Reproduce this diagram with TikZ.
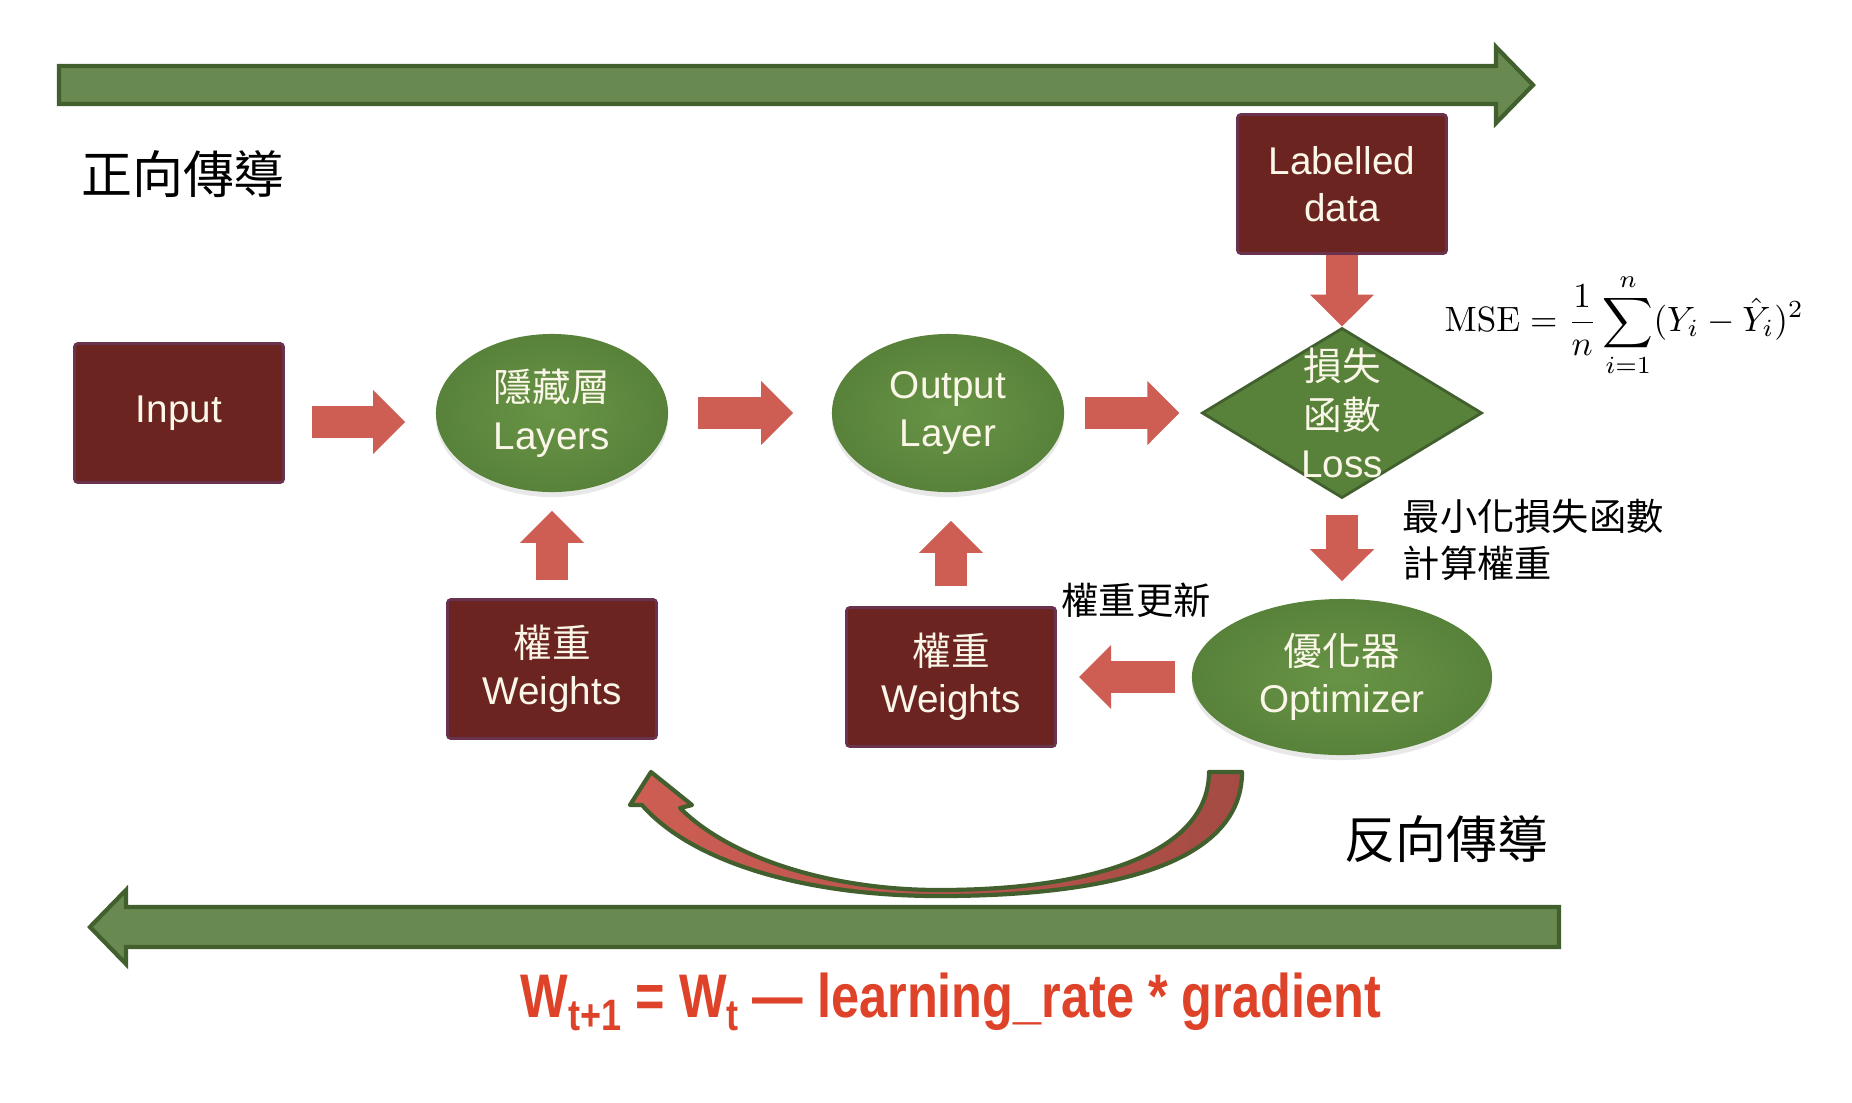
\documentclass[tikz,border=0pt]{standalone}
\usepackage[no-math]{fontspec}
\setmainfont{Liberation Sans}
\newfontfamily\cjk{Noto Sans CJK TC}
\usepackage{graphicx}
\usetikzlibrary{shapes.geometric,arrows.meta,shadows}

\definecolor{rossoscuro}{RGB}{108,36,32}
\definecolor{bordoviola}{RGB}{105,50,78}
\definecolor{verde}{RGB}{88,130,58}
\definecolor{verdechiaro}{RGB}{104,148,70}
\definecolor{verdescuro}{RGB}{66,96,46}
\definecolor{verdebanda}{RGB}{104,138,80}
\definecolor{rossofreccia}{RGB}{206,94,84}
\definecolor{crema}{RGB}{250,246,232}
\definecolor{arancio}{RGB}{222,66,40}

\begin{document}
\begin{tikzpicture}[x=0.01cm, y=-0.01cm,
			blocco/.style={rectangle, rounded corners=1pt, fill=rossoscuro,
				draw=bordoviola, line width=0.8pt, inner sep=0pt,
				minimum width=2.09cm, minimum height=1.39cm,
				align=center, text=crema, font=\fontsize{11}{13.5}\selectfont},
			strato/.style={ellipse, inner color=verdechiaro, outer color=verde,
				minimum width=2.32cm, minimum height=1.58cm, inner sep=0pt,
				align=center, text=crema, font=\fontsize{11}{13.5}\selectfont,
				drop shadow={opacity=0.18, shadow xshift=0pt, shadow yshift=-0.05cm}},
			rombo/.style={diamond, fill=verde, draw=verdescuro, line width=0.8pt,
				minimum width=2.8cm, minimum height=1.7cm, inner sep=0pt},
			dentro/.style={align=center, text=crema, inner sep=0pt,
				font=\fontsize{11}{13.7}\selectfont},
			freccia/.style={draw=rossofreccia, line width=0.32cm,
				-{Triangle[width=0.62cm,length=0.32cm]}},
			banda/.style={fill=verdebanda, draw=verdescuro, line width=1.2pt,
				line join=miter},
			curva/.style={left color=rossofreccia, right color=rossofreccia!80!black,
				draw=verdescuro, line width=1.2pt, line join=round},
			titolo/.style={font=\cjk\fontsize{14.5}{16}\selectfont, inner sep=0pt},
			nota/.style={font=\cjk\fontsize{10.6}{13.4}\selectfont, align=left,
				inner sep=0pt},
			regola/.style={font=\bfseries\fontsize{17.5}{20}\selectfont, text=arancio,
				inner sep=0pt}]
			
			\fill[white] (0,0) rectangle (1852,1102);
			\useasboundingbox (0,0) rectangle (1852,1102);
			
			%% --- bande verdi: avanti (sopra) e indietro (sotto) ---
			\draw[banda] (59,66) -- (1496,66) -- (1496,47) -- (1533,85)
				-- (1496,123) -- (1496,104) -- (59,104) -- cycle;
			\draw[banda] (1559,907) -- (126,907) -- (126,890) -- (90,927)
				-- (126,964) -- (126,947) -- (1559,947) -- cycle;
			\node[titolo] (fwd) at (183,174) {正向傳導};
			\node[titolo] (bwd) at (1446,839) {反向傳導};
			
			%% --- nodi ---
			\node[blocco] (in)  at (179,413) {Input};
			\node[strato] (hid) at (552,413) {{\cjk 隱藏層}\\Layers};
			\node[strato] (out) at (948,413) {Output\\Layer};
			\node[rombo]  (loss) at (1342,413) {};
			\node[dentro] (lossT) at (loss) {{\cjk 損失}\\{\cjk 函數}\\Loss};
			\node[blocco] (lab) at (1342,184) {Labelled\\data};
			\node[strato, minimum width=3.0cm, minimum height=1.56cm] (opt)
				at (1342,677) {{\cjk 優化器}\\Optimizer};
			\node[blocco] (w1) at (552,669) {{\cjk 權重}\\Weights};
			\node[blocco] (w2) at (951,677) {{\cjk 權重}\\Weights};
			
			%% --- frecce rosse ---
			\draw[freccia, shorten <=0.27cm, shorten >=0.30cm]
				([yshift=-0.09cm]in.east) -- ([yshift=-0.09cm]in.east -| hid.west);
			\draw[freccia, shorten <=0.29cm, shorten >=0.38cm] (hid) -- (out);
			\draw[freccia, shorten <=0.20cm, shorten >=0.21cm] (out) -- (loss);
			\draw[freccia] (lab) -- (loss);
			\draw[freccia, shorten <=0.16cm, shorten >=0.17cm] (loss) -- (opt);
			\draw[freccia, shorten <=0.16cm, shorten >=0.22cm] (opt) -- (w2);
			\draw[freccia, shorten <=0.18cm, shorten >=0.18cm] (w1) -- (hid);
			\draw[freccia, shorten <=0.20cm, shorten >=0.28cm]
				(w2.north) -- (w2.north |- out.south);
			
			%% --- testi ---
			\node[anchor=west, inner sep=0pt] (mse) at (1444,325)
				{\fontsize{10}{12}\selectfont
					$\displaystyle \mathrm{MSE}=\frac{1}{n}\sum_{i=1}^{n}(Y_i-\hat{Y}_i)^2$};
			\node[nota, anchor=west] (mini) at (1402,540) {最小化損失函數\\計算權重};
			\node[nota] (upd) at (1136,600) {權重更新};
			
			%% --- freccia curva di ritorno ---
			\draw[curva] (1242,772) .. controls (1242,860) and (1120,896) .. (939,896)
				.. controls (800,896) and (690,860) .. (642,805)
				-- (630,805) -- (651,772) -- (692,805) -- (680,808)
				.. controls (730,858) and (830,890) .. (939,890)
				.. controls (1100,890) and (1209,850) .. (1209,772) -- cycle;
			
			%% --- regola di aggiornamento ---
			\node[regola] (agg) at (951,1002) {\scalebox{0.82}[1]{W\raisebox{-0.4ex}{\fontsize{12.5}{13}\selectfont t+1}
				= W\raisebox{-0.4ex}{\fontsize{12.5}{13}\selectfont t} — learning\_rate * gradient}};
			
		\end{tikzpicture}
\end{document}
